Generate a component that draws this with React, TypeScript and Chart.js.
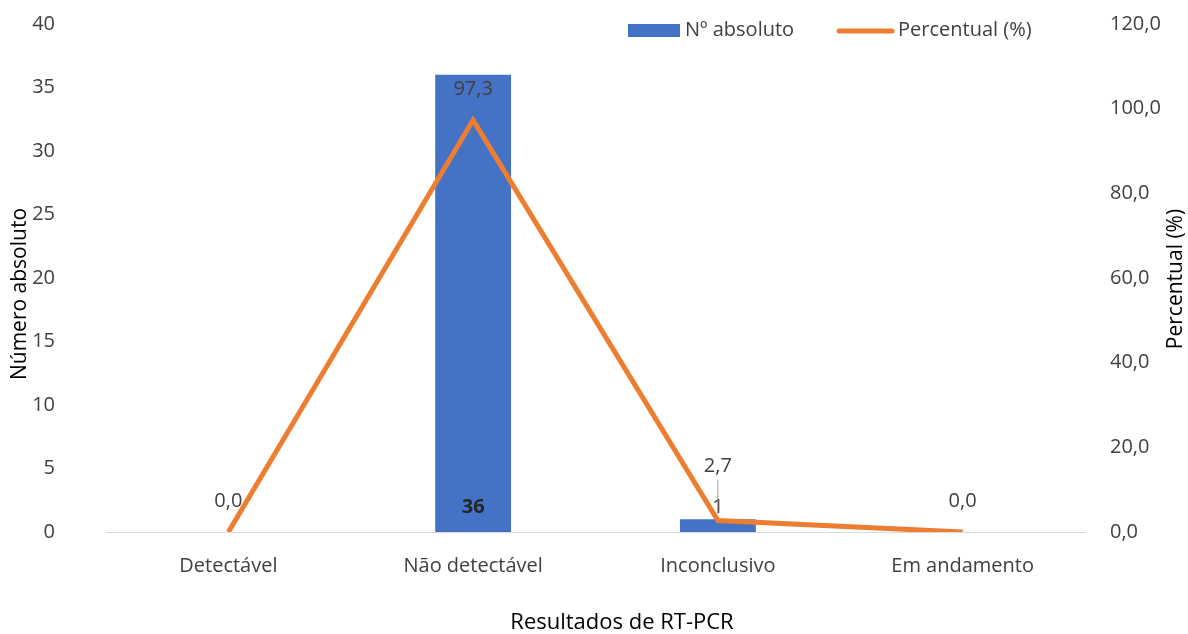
import React, { useEffect, useRef } from "react";
import { Chart, registerables } from "chart.js";

Chart.register(...registerables);

const categories = ["Detectável", "Não detectável", "Inconclusivo", "Em andamento"];
const absoluteValues = [0, 36, 1, 0];
const percentValues = [0, 97.3, 2.7, 0];
const leftTicks = [0, 5, 10, 15, 20, 25, 30, 35, 40];
const rightTicks = [0, 20, 40, 60, 80, 100, 120];

const FONT = "'Open Sans', sans-serif";
const BLUE = "#4472C4";
const ORANGE = "#ED7D31";
const TEXT = "#404040";
const FS = 20;

const fmt = (v: number) => v.toFixed(1).replace(".", ",");

const overlayPlugin = {
  id: "overlay",
  afterDatasetsDraw(chart: any) {
    const ctx = chart.ctx;
    ctx.save();
    ctx.textAlign = "center";
    ctx.textBaseline = "middle";
    const barMeta = chart.getDatasetMeta(0);
    barMeta.data.forEach((el: any, i: number) => {
      const v = absoluteValues[i];
      if (!v) return;
      ctx.fillStyle = "#262626";
      ctx.font = (v > 5 ? "bold " : "") + FS + "px " + FONT;
      ctx.fillText(String(v), el.x, el.base - 25);
    });
    const lineMeta = chart.getDatasetMeta(1);
    lineMeta.data.forEach((el: any, i: number) => {
      const v = percentValues[i];
      ctx.font = FS + "px " + FONT;
      ctx.fillStyle = TEXT;
      const small = v > 0 && v < 5;
      const off = small ? 54 : 31;
      ctx.fillText(fmt(v), el.x, el.y - off);
      if (small) {
        ctx.strokeStyle = "#a6a6a6";
        ctx.lineWidth = 1;
        ctx.beginPath();
        ctx.moveTo(el.x, el.y - off + 13);
        ctx.lineTo(el.x, el.y - 6);
        ctx.stroke();
      }
    });
    ctx.restore();
  },
  afterDraw(chart: any) {
    const ctx = chart.ctx;
    ctx.save();
    ctx.fillStyle = "#000";
    ctx.textAlign = "center";
    ctx.textBaseline = "middle";
    ctx.font = "22px " + FONT;
    ctx.fillText("Resultados de RT-PCR", 622, 623);
    ctx.font = "21px " + FONT;
    ctx.save();
    ctx.translate(20, 294);
    ctx.rotate(-Math.PI / 2);
    ctx.fillText("Número absoluto", 0, 0);
    ctx.restore();
    ctx.save();
    ctx.translate(1176, 279);
    ctx.rotate(-Math.PI / 2);
    ctx.fillText("Percentual (%)", 0, 0);
    ctx.restore();
    // legend
    ctx.fillStyle = BLUE;
    ctx.fillRect(628, 24, 52, 13);
    ctx.fillStyle = TEXT;
    ctx.textAlign = "left";
    ctx.font = FS + "px " + FONT;
    ctx.fillText("Nº absoluto", 685, 30);
    ctx.strokeStyle = ORANGE;
    ctx.lineWidth = 5;
    ctx.lineCap = "round";
    ctx.beginPath();
    ctx.moveTo(839, 31);
    ctx.lineTo(892, 31);
    ctx.stroke();
    ctx.fillText("Percentual (%)", 898, 30);
    ctx.restore();
  },
};

export default function App() {
  const ref = useRef<HTMLCanvasElement | null>(null);
  useEffect(() => {
    if (!ref.current) return;
    const chart = new Chart(ref.current, {
      type: "bar",
      data: {
        labels: categories,
        datasets: [
          {
            type: "bar",
            label: "Nº absoluto",
            data: absoluteValues,
            backgroundColor: BLUE,
            yAxisID: "y",
            barPercentage: 0.31,
            categoryPercentage: 1,
            order: 2,
          },
          {
            type: "line",
            label: "Percentual (%)",
            data: percentValues,
            borderColor: ORANGE,
            backgroundColor: ORANGE,
            borderWidth: 5,
            pointRadius: 0,
            tension: 0,
            yAxisID: "y1",
            order: 1,
          } as any,
        ],
      },
      options: {
        animation: false,
        responsive: false,
        maintainAspectRatio: false,
        layout: { padding: { top: 24, left: 0, right: 0, bottom: 0 } },
        plugins: { legend: { display: false }, tooltip: { enabled: false } },
        scales: {
          x: {
            grid: { display: false },
            border: { display: true, color: "#d9d9d9", width: 1 },
            ticks: { color: TEXT, font: { family: FONT, size: FS }, padding: 14 },
            afterFit: (s: any) => { s.height = 102; s.paddingLeft = 0; s.paddingRight = 0; },
          },
          y: {
            position: "left",
            min: 0,
            max: 40,
            afterBuildTicks: (s: any) => { s.ticks = leftTicks.map((v) => ({ value: v })); },
            grid: { display: false, drawTicks: false },
            border: { display: false },
            ticks: { color: TEXT, font: { family: FONT, size: FS }, padding: 51 },
            afterFit: (s: any) => { s.width = 106; s.paddingTop = 0; s.paddingBottom = 0; },
          },
          y1: {
            position: "right",
            min: 0,
            max: 120,
            afterBuildTicks: (s: any) => { s.ticks = rightTicks.map((v) => ({ value: v })); },
            grid: { display: false, drawTicks: false },
            border: { display: false },
            ticks: {
              color: TEXT,
              font: { family: FONT, size: FS },
              padding: 25,
              callback: (v: any) => fmt(Number(v)),
            },
            afterFit: (s: any) => { s.width = 103; s.paddingTop = 0; s.paddingBottom = 0; },
          },
        },
      },
      plugins: [overlayPlugin],
    });
    return () => chart.destroy();
  }, []);
  return (
    <div style={{ position: "absolute", left: 0, top: 0, width: 1188, height: 634, background: "#fff" }}>
      <canvas ref={ref} width={1188} height={634} style={{ width: 1188, height: 634 }} />
    </div>
  );
}
